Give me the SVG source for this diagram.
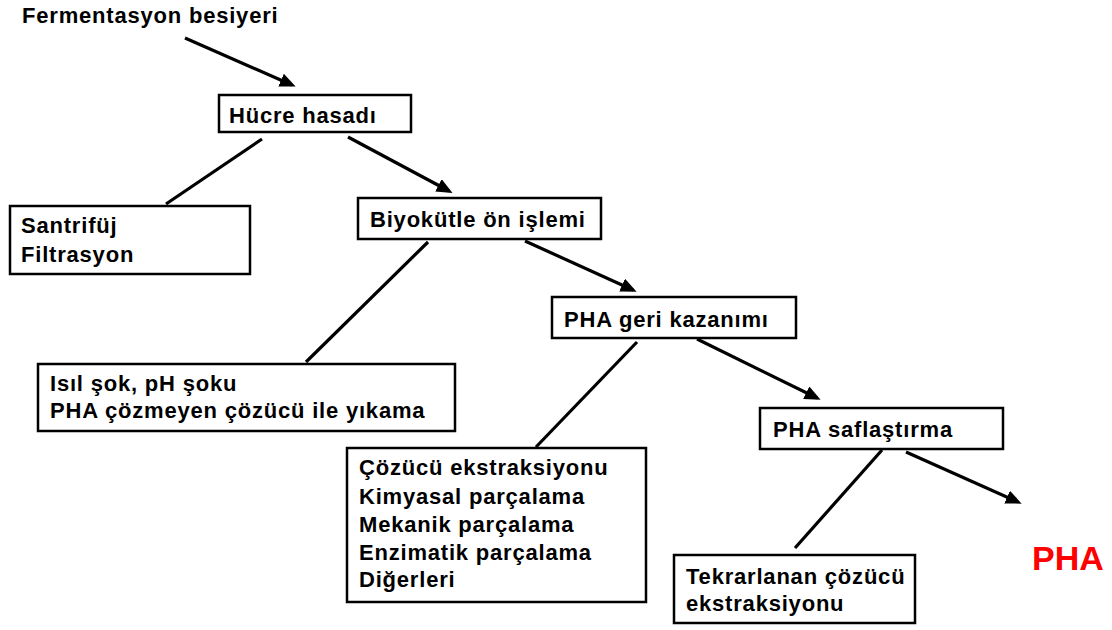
<svg xmlns="http://www.w3.org/2000/svg" width="1112" height="630" viewBox="0 0 1112 630">
<style>
.box{fill:#fff;stroke:#000;stroke-width:2.5}
.t{font-family:"Liberation Sans",Arial,sans-serif;font-weight:bold;font-size:22px;letter-spacing:0.8px;fill:#000}
.ln{stroke:#000;stroke-width:3.2;fill:none}
.ar{marker-end:url(#ah)}
.red{font-family:"Liberation Sans",Arial,sans-serif;font-weight:bold;font-size:34px;fill:#ff0000}
</style>
<defs>
<marker id="ah" markerUnits="userSpaceOnUse" markerWidth="16" markerHeight="14" refX="12" refY="7" orient="auto">
<path d="M0,0 L16,7 L0,14 z" fill="#000"/>
</marker>
</defs>
<rect width="1112" height="630" fill="#fff"/>
<g id="connectors">
<line class="ln ar" x1="185" y1="38" x2="292" y2="85"/>
<line class="ln ar" x1="348" y1="137" x2="449" y2="191"/>
<line class="ln ar" x1="525" y1="241" x2="633" y2="290"/>
<line class="ln ar" x1="697" y1="339" x2="817" y2="398"/>
<line class="ln ar" x1="906" y1="452" x2="1018" y2="502"/>
<line class="ln" x1="262" y1="139" x2="166" y2="204"/>
<line class="ln" x1="428" y1="242" x2="306" y2="362"/>
<line class="ln" x1="637" y1="342" x2="536" y2="447"/>
<line class="ln" x1="882" y1="450" x2="795" y2="548"/>
</g>
<g id="fermentasyon">
<text class="t" x="22" y="23">Fermentasyon besiyeri</text>
</g>
<g id="hucre">
<rect class="box" x="219" y="95" width="192" height="37"/>
<text class="t" x="229" y="123">Hücre hasadı</text>
</g>
<g id="santrifuj">
<rect class="box" x="10" y="206" width="240" height="68"/>
<text class="t" x="21" y="233">Santrifüj</text>
<text class="t" x="21" y="262">Filtrasyon</text>
</g>
<g id="biyokutle">
<rect class="box" x="358" y="198" width="243" height="41"/>
<text class="t" x="370" y="227">Biyokütle ön işlemi</text>
</g>
<g id="isil">
<rect class="box" x="38" y="364" width="417" height="67"/>
<text class="t" x="50" y="391">Isıl şok, pH şoku</text>
<text class="t" x="50" y="418">PHA çözmeyen çözücü ile yıkama</text>
</g>
<g id="geri">
<rect class="box" x="552" y="297" width="244" height="41"/>
<text class="t" x="564" y="327">PHA geri kazanımı</text>
</g>
<g id="cozucu">
<rect class="box" x="347" y="448" width="299" height="154"/>
<text class="t" x="359" y="475">Çözücü ekstraksiyonu</text>
<text class="t" x="359" y="504">Kimyasal parçalama</text>
<text class="t" x="359" y="532">Mekanik parçalama</text>
<text class="t" x="359" y="560">Enzimatik parçalama</text>
<text class="t" x="359" y="587">Diğerleri</text>
</g>
<g id="saflastirma">
<rect class="box" x="760" y="408" width="243" height="41"/>
<text class="t" x="773" y="437">PHA saflaştırma</text>
</g>
<g id="tekrarlanan">
<rect class="box" x="674" y="555" width="241" height="68"/>
<text class="t" x="686" y="584">Tekrarlanan çözücü</text>
<text class="t" x="686" y="611">ekstraksiyonu</text>
</g>
<g id="pha">
<text class="red" x="1032" y="570">PHA</text>
</g>
</svg>
